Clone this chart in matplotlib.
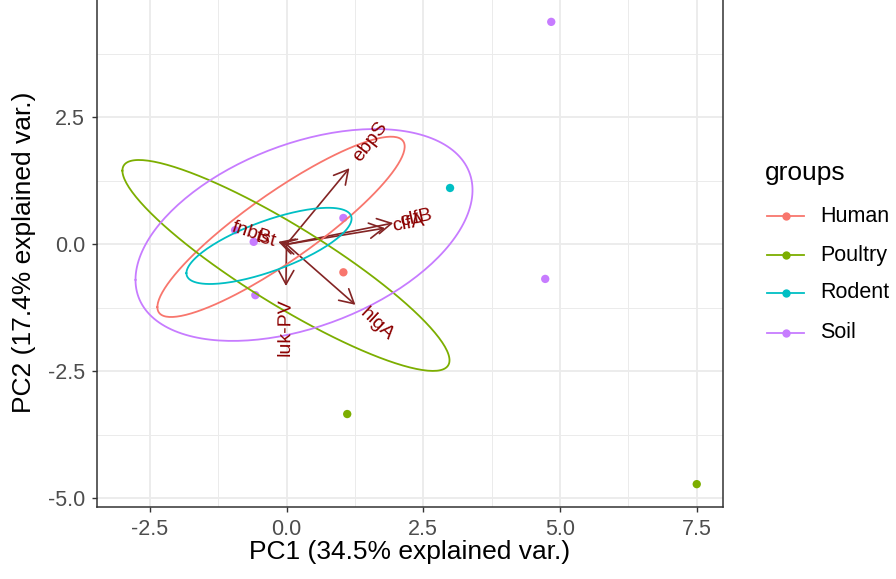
import numpy as np
import matplotlib
matplotlib.use('Agg')
import matplotlib.pyplot as plt
from matplotlib.patches import FancyArrowPatch
from matplotlib.lines import Line2D
from matplotlib.textpath import TextPath
from matplotlib.font_manager import FontProperties

plt.rcParams['font.family'] = ['Liberation Sans', 'DejaVu Sans']

# ---------------- data ----------------
groups = ['Human', 'Poultry', 'Rodent', 'Soil']
colors = ['#F8766D', '#7CAE00', '#00BFC4', '#C77CFF']

pc1_human = [1.04]
pc2_human = [-0.55]
pc1_poultry = [1.11, 7.50]
pc2_poultry = [-3.34, -4.72]
pc1_rodent = [2.99]
pc2_rodent = [1.11]
pc1_soil = [-0.94, -0.60, 1.04, -0.57, 4.73, 4.84]
pc2_soil = [0.28, 0.05, 0.52, -1.00, -0.68, 4.38]

# 68% normal ellipses: centre and shape matrix per group
ell_cx = [-0.10, -0.01, -0.32, 0.32]
ell_cy = [0.345, -0.415, -0.03, 0.185]
ell_sxx = [5.11, 8.94, 2.28, 9.49]
ell_syy = [3.15, 4.31, 0.5625, 4.35]
ell_sxy = [3.57, -5.58, 0.81, 2.72]

# variable loadings (arrows)
var_names = ['ebpS', 'clfA', 'clfB', 'hlgA', 'luk-PV', 'tst', 'fnbB']
var_x = [1.15, 1.80, 1.95, 1.26, -0.01, -0.11, -0.15]
var_y = [1.50, 0.32, 0.42, -1.19, -0.82, 0.03, 0.05]

x_ticks = [-2.5, 0.0, 2.5, 5.0, 7.5]
x_ticklabels = ['-2.5', '0.0', '2.5', '5.0', '7.5']
y_ticks = [-5.0, -2.5, 0.0, 2.5]
y_ticklabels = ['-5.0', '-2.5', '0.0', '2.5']
x_title = 'PC1 (34.5% explained var.)'
y_title = 'PC2 (17.4% explained var.)'
legend_title = 'groups'

# ---------------- figure ----------------
W, H = 896, 579
fig = plt.figure(figsize=(W / 100, H / 100), dpi=100)
pl, pr, pt, pb = 96.7, 723.0, -1.5, 507.0
ax = fig.add_axes([pl / W, 1 - pb / H, (pr - pl) / W, (pb - pt) / H])
ax.set_xlim(-3.47, 7.98)
ax.set_ylim(-5.17, 4.84)

grid_c = '#EBEBEB'
ax.set_xticks(x_ticks)
ax.set_xticklabels(x_ticklabels)
ax.set_yticks(y_ticks)
ax.set_yticklabels(y_ticklabels)
ax.set_xticks([-1.25, 1.25, 3.75, 6.25], minor=True)
ax.set_yticks([-3.75, -1.25, 1.25, 3.75], minor=True)
ax.grid(True, which='major', color=grid_c, lw=1.3, zorder=0)
ax.grid(True, which='minor', color=grid_c, lw=0.7, zorder=0)
ax.set_axisbelow(True)
ax.tick_params(which='major', length=3.8, width=1.0, color='#333333',
               labelsize=15.5, labelcolor='#4D4D4D', pad=4.5)
ax.tick_params(which='minor', length=0)
for s in ax.spines.values():
    s.set_color('#333333')
    s.set_linewidth(1.1)

ax.set_xlabel(x_title, fontsize=19, color='black')
ax.set_ylabel(y_title, fontsize=19, color='black')
ax.xaxis.set_label_coords(0.5, (pb - 552) / (pb - pt))
ax.xaxis.label.set_va('center')
ax.yaxis.set_label_coords((24 - pl) / (pr - pl), (pb - 252) / (pb - pt))
ax.yaxis.label.set_va('center')

# arrows
arrow_c = '#832424'
for vx, vy in zip(var_x, var_y):
    a = FancyArrowPatch((0, 0), (vx, vy),
                        arrowstyle='->,head_length=1.0,head_width=0.55',
                        mutation_scale=10, color=arrow_c, lw=1.2,
                        shrinkA=0, shrinkB=0, zorder=2)
    ax.add_patch(a)

# points
pcs1 = [pc1_human, pc1_poultry, pc1_rodent, pc1_soil]
pcs2 = [pc2_human, pc2_poultry, pc2_rodent, pc2_soil]
for g, c, xs, ys in zip(groups, colors, pcs1, pcs2):
    ax.scatter(xs, ys, s=36, color=c, edgecolors='none', zorder=3)

# ellipses
t = np.linspace(-np.pi, np.pi, 200)
circ = np.vstack([np.cos(t), np.sin(t)])
for i, c in enumerate(colors):
    S = np.array([[ell_sxx[i], ell_sxy[i]], [ell_sxy[i], ell_syy[i]]])
    L = np.linalg.cholesky(S)
    pts = L @ circ
    ax.plot(pts[0] + ell_cx[i], pts[1] + ell_cy[i], color=c, lw=1.3, zorder=4)

# variable labels (ggbiplot style)
lab_fs = 14
fp = FontProperties(family='Liberation Sans', size=lab_fs)
for name, vx, vy in zip(var_names, var_x, var_y):
    ang = np.degrees(np.arctan(vy / vx))
    hj = 0.5 * (1 - 1.5 * np.sign(vx))
    w = TextPath((0, 0), name, prop=fp).get_extents().width
    off = -hj * w
    dx = off * np.cos(np.radians(ang))
    dy = off * np.sin(np.radians(ang))
    ax.annotate(name, (vx, vy), xytext=(dx, dy), textcoords='offset points',
                rotation=ang, rotation_mode='anchor', ha='left', va='center',
                fontsize=lab_fs, color='#8B0000', zorder=5)

# legend
def fy(py):
    return 1 - py / H

fig.text(765 / W, fy(173), legend_title, fontsize=19, ha='left', va='center')
leg_y = [216, 255, 293, 333]
for g, c, py in zip(groups, colors, leg_y):
    fig.add_artist(Line2D([767 / W, 804 / W], [fy(py), fy(py)], color=c, lw=1.3,
                          transform=fig.transFigure))
    fig.add_artist(Line2D([786 / W], [fy(py)], color=c, marker='o', markersize=6,
                          markeredgewidth=0, transform=fig.transFigure))
    fig.text(820 / W, fy(py), g, fontsize=15.5, ha='left', va='center')

fig.savefig('out.png', dpi=100)
